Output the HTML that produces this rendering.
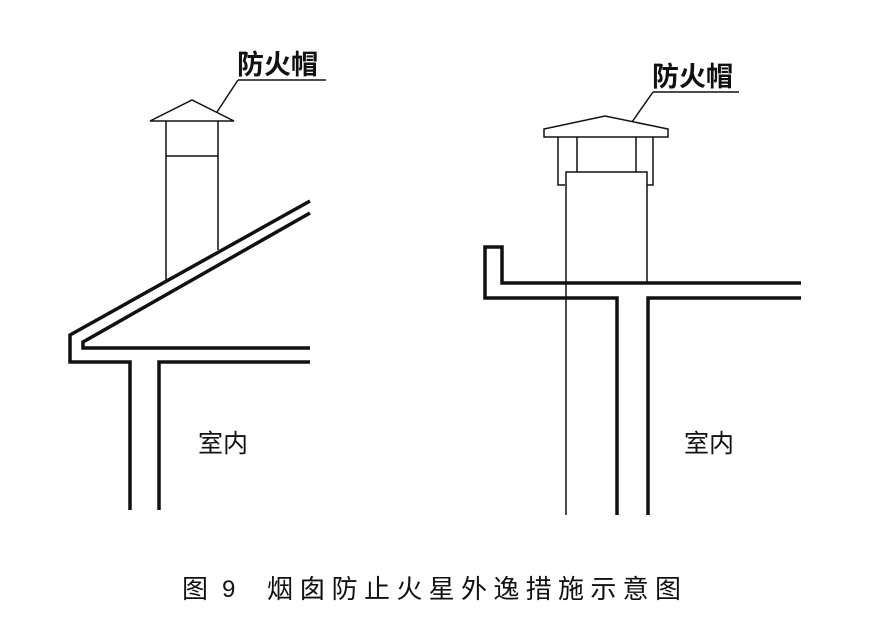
<!DOCTYPE html>
<html><head><meta charset="utf-8"><style>
html,body{margin:0;padding:0;background:#fff;}
svg{display:block;}
text{font-family:"Liberation Sans","Noto Sans CJK SC",sans-serif;fill:#111;}
</style></head><body>
<svg width="895" height="622" viewBox="0 0 895 622" xmlns="http://www.w3.org/2000/svg">
<g fill="none" stroke="#111" stroke-linejoin="miter">
<line x1="238" y1="80" x2="326" y2="80" stroke-width="1.5"/>
<line x1="238" y1="80" x2="217" y2="112" stroke-width="1.5"/>
<polygon points="150,121 192,100 234,121" stroke-width="1.5"/>
<line x1="166" y1="121" x2="166" y2="280" stroke-width="1.5"/>
<line x1="218" y1="121" x2="218" y2="250" stroke-width="1.5"/>
<line x1="166" y1="156" x2="218" y2="156" stroke-width="1.5"/>
<polyline points="310,201 70,335 70,362 130,362 130,510" stroke-width="3.5"/>
<polyline points="310,213 83,342 83,348 310,348" stroke-width="3.5"/>
<polyline points="159,510 159,362 310,362" stroke-width="3.5"/>
<line x1="653" y1="92" x2="739" y2="92" stroke-width="1.5"/>
<line x1="653" y1="92" x2="632" y2="122" stroke-width="1.5"/>
<polygon points="544,137 544,129 605,116 668,129 668,137" stroke-width="1.5"/>
<polyline points="558,137 558,185 565,185" stroke-width="1.5"/>
<line x1="577" y1="137" x2="577" y2="172" stroke-width="1.5"/>
<line x1="636" y1="137" x2="636" y2="172" stroke-width="1.5"/>
<polyline points="653,137 653,185 647,185" stroke-width="1.5"/>
<polyline points="566,515 566,172 647,172 647,283" stroke-width="1.5"/>
<polyline points="801,283 502,283 502,247 485,247 485,298 617,298 617,515" stroke-width="3.5"/>
<polyline points="648,515 648,298 801,298" stroke-width="3.5"/>
</g>
<text x="237" y="74" font-size="27" font-weight="bold">防火帽</text>
<text x="652" y="86" font-size="27" font-weight="bold">防火帽</text>
<text x="198" y="452" font-size="25">室内</text>
<text x="684" y="452" font-size="25">室内</text>
<g style="font-family:'Noto Sans CJK SC',sans-serif">
<text x="182" y="598" font-size="26" style="font-family:'Noto Sans CJK SC',sans-serif">图</text>
<text x="222" y="597" font-size="24" style="font-family:'Liberation Sans',sans-serif">9</text>
<text x="267" y="598" font-size="26" textLength="414" lengthAdjust="spacing" style="font-family:'Noto Sans CJK SC',sans-serif">烟囱防止火星外逸措施示意图</text>
</g>
</svg>
</body></html>
